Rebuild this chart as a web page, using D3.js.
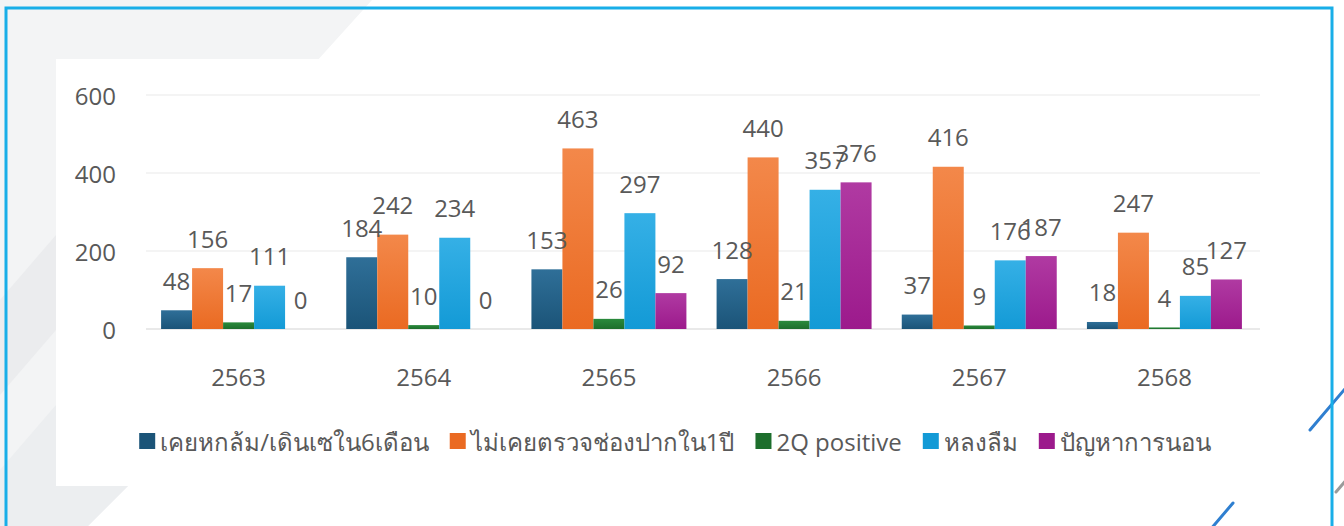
<!DOCTYPE html>
<html>
<head>
<meta charset="utf-8">
<script src="https://cdn.jsdelivr.net/npm/d3@7"></script>
<style>
  html, body { margin: 0; padding: 0; background: #ffffff; }
  svg { display: block; }
  text { font-family: "Open Sans", "Noto Sans", sans-serif; fill: #595959; }
</style>
</head>
<body>
<div id="chart"></div>
<script>
// data
var years   = ["2563", "2564", "2565", "2566", "2567", "2568"];
var fall    = [48, 184, 153, 128, 37, 18];
var oral    = [156, 242, 463, 440, 416, 247];
var q2      = [17, 10, 26, 21, 9, 4];
var forget  = [111, 234, 297, 357, 176, 85];
var sleep   = [0, 0, 92, 376, 187, 127];
var seriesNames = ["เคยหกล้ม/เดินเซใน6เดือน", "ไม่เคยตรวจช่องปากใน1ปี", "2Q positive", "หลงลืม", "ปัญหาการนอน"];
var yTicks  = [0, 200, 400, 600];

var seriesValues = [fall, oral, q2, forget, sleep];
var colors = [
  {top: "#2f6f98", bottom: "#1b5478"},
  {top: "#f3884a", bottom: "#ea6a22"},
  {top: "#2a8a3c", bottom: "#1d6e2c"},
  {top: "#35b0e6", bottom: "#139ad6"},
  {top: "#b03aa2", bottom: "#9c1a8c"}
];

var W = 1344, H = 526;

var svg = d3.select("#chart").append("svg")
    .attr("width", W)
    .attr("height", H);

// background decoration
svg.append("rect").attr("width", W).attr("height", H).attr("fill", "#ffffff");
svg.append("polygon")
    .attr("points", "0,0 372,0 316,62 56,62 56,486 128,486 88,526 0,526")
    .attr("fill", "#f3f4f5");
svg.append("polygon")
    .attr("points", "0,300 56,235 56,330 0,395")
    .attr("fill", "#ebecee");
svg.append("polygon")
    .attr("points", "0,470 56,405 56,486 128,486 88,526 0,526")
    .attr("fill", "#eceef0");

// decorative strokes bottom right
svg.append("line").attr("x1", 1310).attr("y1", 430).attr("x2", 1350).attr("y2", 383)
    .attr("stroke", "#2f7fd0").attr("stroke-width", 3).attr("stroke-linecap", "round");
svg.append("line").attr("x1", 1233).attr("y1", 503).attr("x2", 1210).attr("y2", 530)
    .attr("stroke", "#2f7fd0").attr("stroke-width", 3).attr("stroke-linecap", "round");
svg.append("line").attr("x1", 1336).attr("y1", 492).attr("x2", 1348).attr("y2", 478)
    .attr("stroke", "#9a9a9a").attr("stroke-width", 3).attr("stroke-linecap", "round");

// frame
svg.append("rect")
    .attr("x", 6).attr("y", 8)
    .attr("width", 1326).attr("height", 540)
    .attr("fill", "none")
    .attr("stroke", "#18aee8")
    .attr("stroke-width", 3);

// white chart panel
svg.append("rect")
    .attr("x", 56).attr("y", 59)
    .attr("width", 1206).attr("height", 425)
    .attr("fill", "#ffffff");

// gradients
var defs = svg.append("defs");
colors.forEach(function(c, i) {
  var g = defs.append("linearGradient")
      .attr("id", "grad" + i)
      .attr("x1", 0).attr("y1", 0).attr("x2", 0).attr("y2", 1);
  g.append("stop").attr("offset", "0%").attr("stop-color", c.top);
  g.append("stop").attr("offset", "100%").attr("stop-color", c.bottom);
});

// scales
var x0 = d3.scaleBand()
    .domain(years)
    .range([146, 1257])
    .paddingInner(0.163)
    .paddingOuter(0.0815);

var x1 = d3.scaleBand()
    .domain(d3.range(seriesNames.length))
    .range([0, x0.bandwidth()]);

var y = d3.scaleLinear()
    .domain([0, 600])
    .range([329, 95]);

// gridlines
svg.append("g").selectAll("line")
    .data(yTicks)
    .enter().append("line")
    .attr("x1", 146).attr("x2", 1260)
    .attr("y1", function(d) { return y(d); })
    .attr("y2", function(d) { return y(d); })
    .attr("stroke", function(d) { return d === 0 ? "#e2e2e2" : "#f1f1f1"; })
    .attr("stroke-width", 1.5);

// y axis labels
var yAxis = d3.axisLeft(y).tickValues(yTicks).tickSize(0).tickPadding(0);
var yg = svg.append("g")
    .attr("transform", "translate(116,2)")
    .call(yAxis);
yg.select(".domain").remove();
yg.selectAll("text")
    .style("font-size", "24px")
    .attr("fill", "#595959");

// x axis labels
var xAxis = d3.axisBottom(x0).tickSize(0).tickPadding(0);
var xg = svg.append("g")
    .attr("transform", "translate(0,372)")
    .call(xAxis);
xg.select(".domain").remove();
xg.selectAll("text")
    .style("font-size", "24px")
    .attr("fill", "#595959")
    .attr("dy", "0.6em");

// bars
var rows = years.map(function(yr, i) {
  return seriesValues.map(function(vals, s) { return {year: yr, s: s, v: vals[i]}; });
});

var groups = svg.append("g").selectAll("g")
    .data(rows)
    .enter().append("g")
    .attr("transform", function(d, i) { return "translate(" + x0(years[i]) + ",0)"; });

groups.selectAll("rect")
    .data(function(d) { return d; })
    .enter().append("rect")
    .attr("x", function(d) { return x1(d.s); })
    .attr("width", x1.bandwidth())
    .attr("y", function(d) { return y(d.v); })
    .attr("height", function(d) { return y(0) - y(d.v); })
    .attr("fill", function(d) { return "url(#grad" + d.s + ")"; });

// value labels
groups.selectAll("text")
    .data(function(d) { return d; })
    .enter().append("text")
    .attr("x", function(d) { return x1(d.s) + x1.bandwidth() / 2; })
    .attr("y", function(d) { return y(d.v) - 30; })
    .attr("text-anchor", "middle")
    .attr("dominant-baseline", "central")
    .style("font-size", "24px")
    .text(function(d) { return d.v; });

// legend
var legend = svg.append("g").attr("transform", "translate(0,441)");
var items = legend.selectAll("g")
    .data(seriesNames)
    .enter().append("g");
items.append("rect")
    .attr("width", 16).attr("height", 16)
    .attr("y", -8)
    .attr("fill", function(d, i) { return colors[i].bottom; });
items.append("text")
    .attr("x", 21)
    .attr("dominant-baseline", "central")
    .style("font-size", "24px")
    .text(function(d) { return d; });

var xpos = 0, gap = 21, widths = [];
items.each(function() {
  widths.push(21 + d3.select(this).select("text").node().getComputedTextLength());
});
var total = d3.sum(widths) + gap * (widths.length - 1);
xpos = 675 - total / 2;
items.attr("transform", function(d, i) {
  var t = "translate(" + xpos + ",0)";
  xpos += widths[i] + gap;
  return t;
});
</script>
</body>
</html>
